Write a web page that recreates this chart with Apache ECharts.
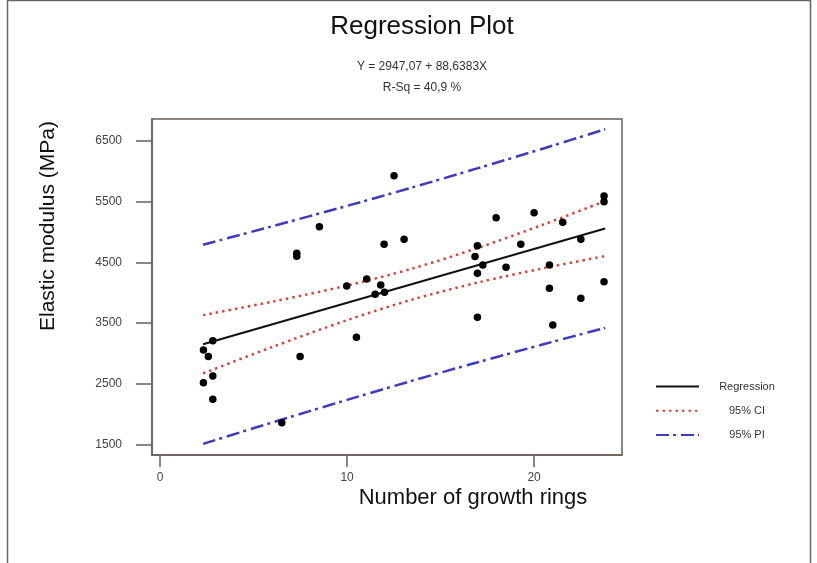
<!DOCTYPE html>
<html>
<head>
<meta charset="utf-8">
<title>Regression Plot</title>
<script src="https://cdn.jsdelivr.net/npm/echarts@6/dist/echarts.min.js"></script>
<style>
  html, body { margin: 0; padding: 0; background: #fff; }
  #main { width: 817px; height: 563px; }
</style>
</head>
<body>
<div id="main"></div>
<script>
// tick labels
var xTicks = [0, 10, 20]
var yTicks = [1500, 2500, 3500, 4500, 5500, 6500]

// observed points (growth rings, elastic modulus)
var ringsX = [2.32, 2.82, 2.58, 2.82, 2.32, 2.82, 6.51, 7.31, 7.31, 7.49, 8.52, 9.98, 10.5,
  11.05, 11.5, 11.8, 12.0, 11.98, 12.51, 13.05, 16.84, 16.97, 16.97, 16.97, 17.26, 17.97,
  18.5, 19.29, 20.0, 20.82, 20.82, 21.0, 21.53, 22.5, 22.5, 23.74, 23.74, 23.74]
var modulusY = [3058, 3211, 2948, 2630, 2519, 2246, 1860, 4650, 4600, 2948, 5089, 4112, 3267,
  4227, 3975, 4128, 4008, 4798, 5929, 4881, 4595, 4776, 4321, 3596, 4458, 5237,
  4420, 4798, 5319, 4458, 4074, 3470, 5161, 4881, 3909, 5594, 5500, 4183]

// fitted line end points
var fitX = [2.3, 23.8]
var fitY = [3151, 5057]

// confidence / prediction bands
var bandX = [2.3, 6, 10, 13.5, 17, 20.5, 23.8]
var ciUpper = [3631, 3852, 4118, 4399, 4739, 5124, 5510]
var ciLower = [2671, 3106, 3548, 3889, 4169, 4404, 4604]
var piUpper = [4791, 5095, 5431, 5736, 6052, 6377, 6693]
var piLower = [1511, 1863, 2235, 2552, 2856, 3151, 3421]

function pairs (xs, ys) {
  return xs.map(function (x, i) { return [x, ys[i]] })
}

var frameColor = '#6b5d58'
var ciStyle = { color: '#d2473c', width: 2.5, type: [2.5, 4] }
var piStyle = { color: '#3c3cbc', width: 2.5, type: [13, 4, 3, 5] }

var myChart = echarts.init(document.getElementById('main'))
myChart.setOption({
  backgroundColor: '#fff',
  animation: false,
  title: {
    text: 'Regression Plot',
    subtext: 'Y = 2947,07 + 88,6383X\nR-Sq = 40,9 %',
    left: 417,
    top: 9,
    textAlign: 'center',
    itemGap: 16,
    textStyle: { fontFamily: 'Liberation Sans', fontSize: 26, fontWeight: 'normal', color: '#111' },
    subtextStyle: { fontFamily: 'Liberation Sans', fontSize: 12, color: '#333', lineHeight: 21 }
  },
  legend: {
    orient: 'vertical',
    left: 650,
    top: 376,
    itemWidth: 43,
    itemHeight: 14,
    itemGap: 13,
    itemStyle: { opacity: 0 },
    data: ['Regression', '95% CI', '95% PI'],
    formatter: '{t|{name}}',
    textStyle: {
      rich: { t: { width: 86, align: 'center', fontFamily: 'Liberation Sans', fontSize: 11, color: '#333' } }
    }
  },
  grid: {
    left: 152,
    right: 195,
    top: 119,
    bottom: 108,
    show: true,
    borderColor: frameColor,
    borderWidth: 1.5
  },
  xAxis: {
    type: 'value',
    min: -0.43,
    max: 24.7,
    splitLine: { show: false },
    axisLine: { show: true, onZero: false, lineStyle: { color: frameColor, width: 1.5 } },
    axisTick: { show: true, length: 12, customValues: xTicks, lineStyle: { color: frameColor, width: 1.5 } },
    axisLabel: { customValues: xTicks, margin: 17, fontFamily: 'Liberation Sans', fontSize: 12, color: '#444' }
  },
  yAxis: {
    type: 'value',
    min: 1327,
    max: 6862,
    splitLine: { show: false },
    axisLine: { show: true, onZero: false, lineStyle: { color: frameColor, width: 1.5 } },
    axisTick: { show: true, length: 16, customValues: yTicks, lineStyle: { color: frameColor, width: 1.5 } },
    axisLabel: {
      customValues: yTicks,
      margin: 30,
      fontFamily: 'Liberation Sans',
      fontSize: 12,
      color: '#444',
      formatter: function (v) { return String(v) }
    }
  },
  graphic: [
    {
      type: 'rect',
      silent: true,
      shape: { x: 7.5, y: 0.5, width: 803, height: 620 },
      style: { fill: 'none', stroke: '#666', lineWidth: 1.5 }
    },
    {
      type: 'text',
      x: 473,
      y: 498,
      style: {
        text: 'Number of growth rings',
        fontFamily: 'Liberation Sans',
        fontSize: 22,
        fill: '#111',
        align: 'center',
        verticalAlign: 'middle'
      }
    },
    {
      type: 'text',
      x: 48,
      y: 226,
      rotation: Math.PI / 2,
      style: {
        text: 'Elastic modulus (MPa)',
        fontFamily: 'Liberation Sans',
        fontSize: 21,
        fill: '#111',
        align: 'center',
        verticalAlign: 'middle'
      }
    }
  ],
  series: [
    {
      name: '95% PI',
      type: 'line',
      data: pairs(bandX, piUpper),
      smooth: 0.3,
      symbol: 'none',
      lineStyle: piStyle,
      itemStyle: { color: piStyle.color }
    },
    {
      name: '95% PI',
      type: 'line',
      data: pairs(bandX, piLower),
      smooth: 0.3,
      symbol: 'none',
      lineStyle: piStyle,
      itemStyle: { color: piStyle.color }
    },
    {
      name: '95% CI',
      type: 'line',
      data: pairs(bandX, ciUpper),
      smooth: 0.3,
      symbol: 'none',
      lineStyle: ciStyle,
      itemStyle: { color: ciStyle.color }
    },
    {
      name: '95% CI',
      type: 'line',
      data: pairs(bandX, ciLower),
      smooth: 0.3,
      symbol: 'none',
      lineStyle: ciStyle,
      itemStyle: { color: ciStyle.color }
    },
    {
      name: 'Regression',
      type: 'line',
      data: pairs(fitX, fitY),
      symbol: 'none',
      lineStyle: { color: '#111', width: 2 },
      itemStyle: { color: '#111' }
    },
    {
      name: 'Points',
      type: 'scatter',
      data: pairs(ringsX, modulusY),
      symbolSize: 7.5,
      itemStyle: { color: '#000', opacity: 1 },
      z: 5
    }
  ]
})
</script>
</body>
</html>
